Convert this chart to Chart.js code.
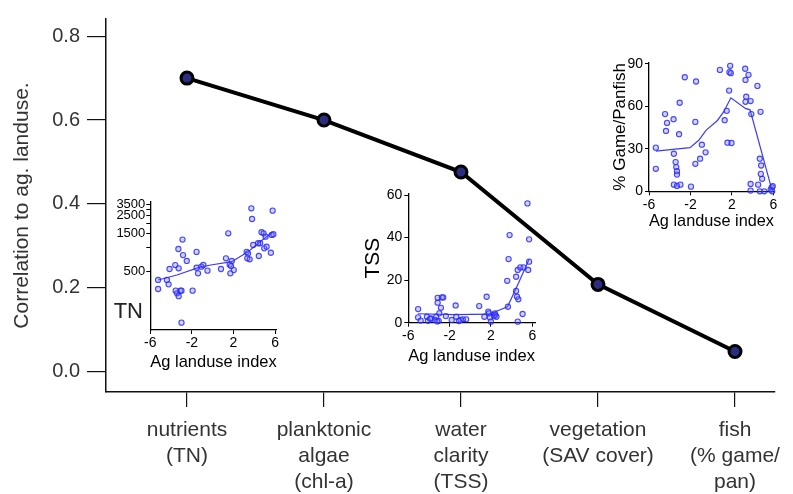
<!DOCTYPE html>
<html>
<head>
<meta charset="utf-8">
<script src="https://cdn.jsdelivr.net/npm/chart.js@4.4.1/dist/chart.umd.min.js"></script>
<style>
  body { margin: 0; background: #fff; }
  #wrap { position: relative; width: 793px; height: 494px; }
  canvas { position: absolute; }
</style>
</head>
<body>
<div id="wrap">
  <canvas id="main" width="793" height="494" style="left:0;top:0"></canvas>
  <canvas id="tn" width="185" height="185" style="left:100px;top:190px"></canvas>
  <canvas id="tss" width="195" height="190" style="left:350px;top:183px"></canvas>
  <canvas id="fish" width="190" height="180" style="left:595px;top:52px"></canvas>
</div>
<script>
// main panel
const categories = [
  ["nutrients", "(TN)"],
  ["planktonic", "algae", "(chl-a)"],
  ["water", "clarity", "(TSS)"],
  ["vegetation", "(SAV cover)"],
  ["fish", "(% game/", "pan)"],
];
const correlation = [0.70, 0.60, 0.476, 0.208, 0.048];
const corrTicks = [0, 0.2, 0.4, 0.6, 0.8];

// inset: TN vs ag landuse
const tnX = [-5.25, -5.25, -4.4, -4.24, -4.15, -3.6, -3.56, -3.43, -3.27, -3.1, -3.0, -3.3, -3.27, -2.9, -2.85, -3.0, -2.49, -1.93, -1.55, -1.55, -1.41, -1.09, -0.9, -0.5, 0.8, 1.28, 1.5, 1.64, 1.7, 1.77, 1.84, 2.03, 3.27, 3.33, 3.4, 3.56, 3.72, 3.79, 3.9, 4.44, 4.57, 4.7, 4.9, 4.96, 5.09, 5.19, 5.6, 5.68, 5.77, 5.84, 4.37];
const tnY = [385, 296, 385, 339, 530, 595, 282, 261, 240, 282, 282, 950, 541, 1248, 795, 111, 670, 282, 873, 550, 467, 568, 596, 505, 530, 724, 1500, 602, 467, 577, 670, 513, 873, 724, 835, 703, 3110, 2276, 1067, 774, 1122, 1550, 1500, 968, 1360, 1016, 851, 1430, 2903, 1460, 1122];
const tnFitX = [-5.25, -3.43, -1.32, -0.18, 1.84, 3.4, 4.37, 5.68];
const tnFitY = [385, 445, 556, 596, 656, 873, 1122, 1528];
const tnTicks = [500, 1000, 1500, 2000, 2500, 3000, 3500];
const tnTickLabels = [500, 1500, 2500, 3500];

// inset: TSS vs ag landuse
const tssX = [-5.05, -5.05, -4.2, -4.1, -3.8, -3.4, -3.3, -3.16, -3.16, -3.0, -2.84, -2.75, -2.62, -2.37, -3.06, -1.8, -1.42, -1.36, -0.94, -0.72, -0.4, 0.86, 1.58, 1.36, 1.74, 1.8, 1.9, 1.99, 2.3, 2.37, 2.43, 2.53, 3.64, 3.57, 3.7, 3.8, 4.43, 4.52, 4.65, 4.43, 4.59, 4.84, 5.15, 5.06, 4.59, 5.53, 5.69, 5.6, 5.69, -4.8, -3.9, -3.2, -1.1];
const tssY = [6.4, 2.5, 2.8, 0.9, 2.0, 1.3, 2.8, 9.4, 11.7, 4.4, 7.0, 11.9, 11.9, 3.1, 0.9, 1.3, 8.1, 2.8, 1.3, 1.6, 1.6, 7.8, 12.2, 2.8, 5.2, 4.4, 2.5, 0.5, 3.1, 4.4, 3.6, 2.8, 7.5, 19.7, 29.9, 41.2, 14.9, 12.2, 11.0, 21.6, 24.8, 26.0, 26.0, 4.1, 0.5, 56.1, 39.2, 24.8, 28.7, 1.0, 1.8, 0.6, 0.8];
const tssFitX = [-5.05, -1.5, 1.8, 3.6, 4.6, 5.7];
const tssFitY = [4.2, 3.8, 4.0, 7.5, 18, 30];
const tssTicks = [0, 20, 40, 60];

// inset: % game/panfish vs ag landuse
const fishX = [-5.34, -5.34, -4.45, -4.26, -4.36, -3.63, -3.6, -3.43, -3.37, -3.3, -3.3, -3.6, -3.3, -2.97, -3.04, -3.1, -2.55, -1.95, -1.46, -1.53, -1.53, -1.07, -0.9, -0.54, 0.84, 1.3, 1.5, 1.57, 1.96, 1.73, 1.76, 1.83, 1.89, 3.28, 3.31, 3.38, 3.31, 3.8, 3.6, 3.87, 4.46, 4.76, 3.8, 3.8, 4.53, 4.69, 4.82, 4.79, 4.92, 4.69, 5.12, 5.84, 5.74, 5.88, 5.94];
const fishY = [30.8, 15.9, 54.5, 48.3, 42.6, 50.9, 26.5, 20.6, 17.1, 14.2, 11.8, 4.7, 3.8, 4.7, 62.5, 40.3, 80.5, 3.3, 77.5, 49.0, 19.4, 23.0, 32.9, 27.5, 85.7, 50.2, 56.8, 34.3, 34.1, 71.1, 84.1, 88.6, 83.4, 86.5, 78.6, 66.8, 63.2, 63.7, 82.2, 54.5, 74.4, 56.1, 5.2, 0.5, 4.7, 23.0, 18.2, 12.3, 8.8, 0, 0, 2.8, 1.2, 0, 3.6];
const fishFitX = [-5.34, -2.05, -1.2, -0.5, 0.6, 1.2, 1.9, 3.3, 3.75, 5.84];
const fishFitY = [28.4, 30.8, 36, 43, 50, 56, 66, 58.5, 57.5, 1.5];
const fishTicks = [0, 30, 60, 90];

const landuseTicks = [-6, -2, 2, 6];

Chart.defaults.font.family = '"Liberation Sans", Arial, sans-serif';
Chart.defaults.color = '#000';

const pairs = (xs, ys) => xs.map((x, i) => ({ x: x, y: ys[i] }));
const setTicks = vals => s => { s.ticks = vals.map(v => ({ value: v })); };

new Chart(document.getElementById("main"), {
  type: "line",
  data: {
    datasets: [{
      data: correlation.map((v, i) => ({ x: i, y: v })),
      borderColor: "#000",
      borderWidth: 4,
      pointRadius: 6,
      pointBorderWidth: 3,
      pointBorderColor: "#000",
      pointBackgroundColor: "#2d2d80",
    }],
  },
  options: {
    responsive: false,
    animation: false,
    layout: { padding: { top: 8, right: 18, left: 0, bottom: 0 } },
    plugins: { legend: { display: false }, tooltip: { enabled: false } },
    scales: {
      x: {
        type: "linear",
        min: -0.591,
        max: 4.292,
        afterBuildTicks: setTicks(categories.map((c, i) => i)),
        border: { color: "#111", width: 1.5 },
        grid: { drawOnChartArea: false, tickLength: 15, color: "#111", lineWidth: 1.2 },
        ticks: {
          autoSkip: false, maxRotation: 0, padding: 10, color: "#333",
          font: { size: 21, lineHeight: 1.24 },
          callback: v => categories[v],
        },
        afterFit: s => { s.height = 102; },
      },
      y: {
        min: -0.0487,
        max: 0.841,
        afterBuildTicks: setTicks(corrTicks),
        border: { color: "#111", width: 1.5 },
        grid: { drawOnChartArea: false, tickLength: 19, color: "#111", lineWidth: 1.2 },
        ticks: { padding: 7, color: "#333", font: { size: 20 }, callback: v => v.toFixed(1) },
        title: {
          display: true, text: "Correlation to ag. landuse.", color: "#333",
          font: { size: 21 }, padding: { top: 10, bottom: 0 },
        },
        afterFit: s => { s.width = 106; },
      },
    },
  },
});

// small scatter panels
function inset(id, pts, fit, o) {
  return new Chart(document.getElementById(id), {
    type: "scatter",
    data: {
      datasets: [
        {
          data: pts, pointRadius: 2.6, borderWidth: 1.1,
          borderColor: "rgba(40,40,255,0.85)", backgroundColor: "rgba(110,110,255,0.3)", clip: false,
        },
        { data: fit, showLine: true, pointRadius: 0, borderColor: "#3a3aff", borderWidth: 1.2, clip: false },
      ],
    },
    options: {
      responsive: false,
      animation: false,
      layout: { padding: o.pad },
      plugins: { legend: { display: false }, tooltip: { enabled: false } },
      scales: {
        x: {
          type: "linear",
          min: -6,
          max: o.xMax,
          afterBuildTicks: setTicks(landuseTicks),
          border: { color: "#000", width: 1.3 },
          grid: { drawOnChartArea: false, tickLength: 4, color: "#000" },
          ticks: { padding: 1, font: { size: 14 } },
          title: { display: true, text: "Ag landuse index", font: { size: 17 }, padding: { top: 0, bottom: o.xTitlePad } },
          afterFit: s => { s.height = o.xh; },
        },
        y: Object.assign({
          border: { color: "#000", width: 1.3 },
          grid: { drawOnChartArea: false, tickLength: 4, color: "#000" },
          afterFit: s => { s.width = o.yw; },
        }, o.y),
      },
    },
    plugins: o.plugins || [],
  });
}

const tnLabel = {
  id: "tnLabel",
  afterDraw(c) {
    const { ctx, chartArea: a } = c;
    ctx.save();
    ctx.font = '22px "Liberation Sans", Arial, sans-serif';
    ctx.fillStyle = "#222";
    ctx.textAlign = "center";
    ctx.textBaseline = "middle";
    ctx.fillText("TN", a.left - 22, a.bottom - 18);
    ctx.restore();
  },
};

inset("tn", pairs(tnX, tnY), pairs(tnFitX, tnFitY), {
  pad: { top: 11.7, right: 8.3, left: 0, bottom: 0 },
  xMax: 6.16, xh: 45, yw: 50.3, xTitlePad: 2,
  plugins: [tnLabel],
  y: {
    type: "logarithmic",
    min: 89.6,
    max: 3768,
    afterBuildTicks: setTicks(tnTicks),
    ticks: { autoSkip: false, padding: 1, font: { size: 13 }, callback: v => (tnTickLabels.includes(v) ? String(v) : "") },
  },
});

inset("tss", pairs(tssX, tssY), pairs(tssFitX, tssFitY), {
  pad: { top: 10.3, right: 10, left: 0, bottom: 0 },
  xMax: 6.26, xh: 50.3, yw: 58.3, xTitlePad: 6.2,
  y: {
    min: 0,
    max: 60.8,
    afterBuildTicks: setTicks(tssTicks),
    ticks: { autoSkip: false, padding: 2, font: { size: 14 } },
    title: { display: true, text: "TSS", font: { size: 21 }, padding: { top: 10.4, bottom: 0 } },
  },
});

inset("fish", pairs(fishX, fishY), pairs(fishFitX, fishFitY), {
  pad: { top: 10, right: 11, left: 0, bottom: 0 },
  xMax: 6.06, xh: 40.7, yw: 54, xTitlePad: 0.2,
  y: {
    min: 0,
    max: 91,
    afterBuildTicks: setTicks(fishTicks),
    ticks: { autoSkip: false, padding: 2, font: { size: 14 } },
    title: { display: true, text: "% Game/Panfish", font: { size: 17 }, padding: { top: 14.8, bottom: 0 } },
  },
});
</script>
</body>
</html>
